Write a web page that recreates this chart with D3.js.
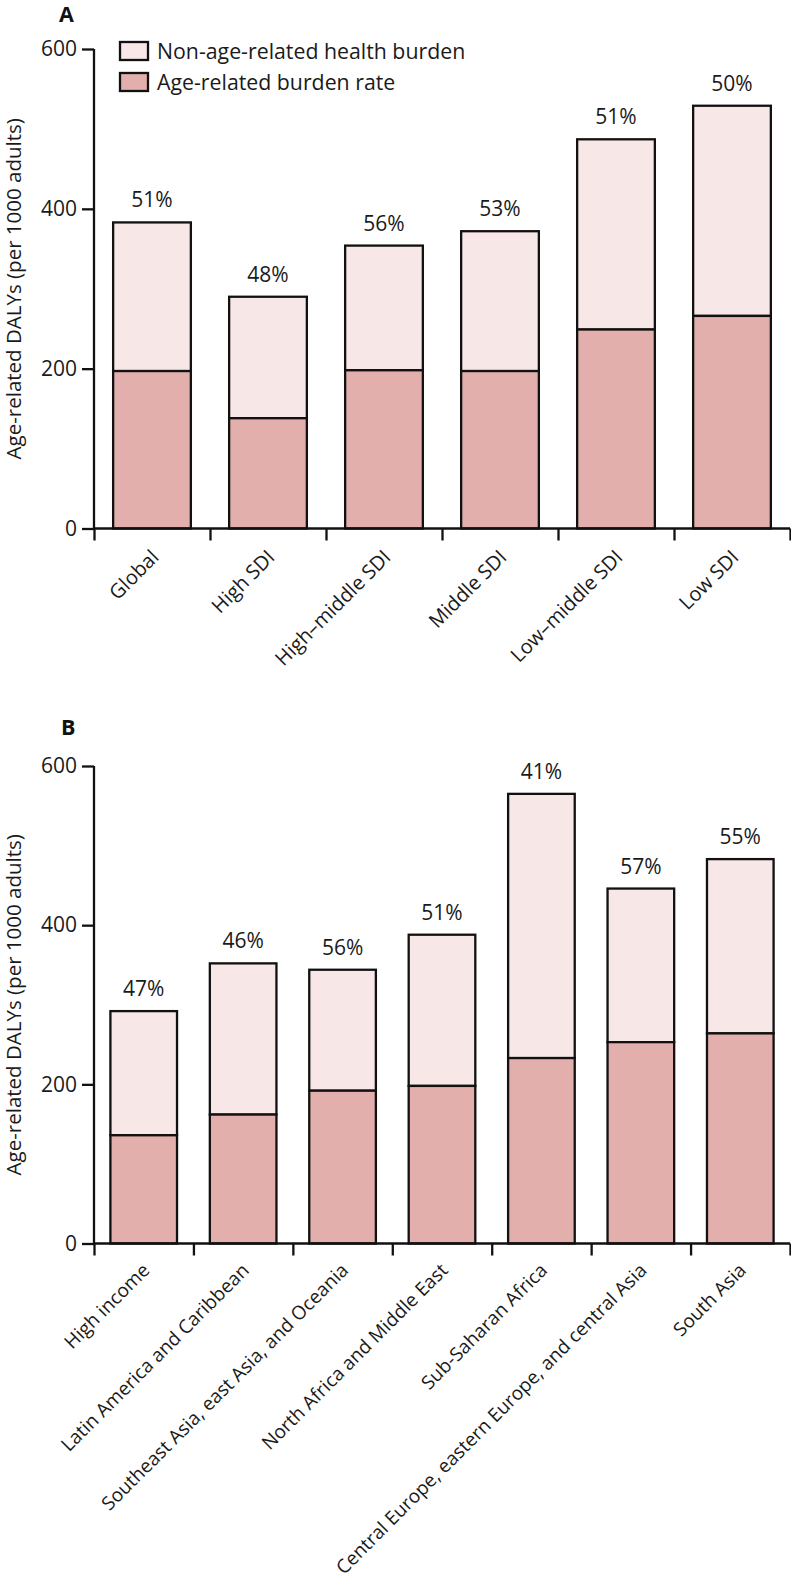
<!DOCTYPE html>
<html>
<head>
<meta charset="utf-8">
<script src="https://cdn.jsdelivr.net/npm/d3@7"></script>
<style>
  html, body { margin: 0; padding: 0; background: #fff; }
  svg { display: block; font-family: "Open Sans", "Noto Sans", sans-serif; }
</style>
</head>
<body>
<script>
// ---- Data ----
const categoriesA = ["Global", "High SDI", "High\u2013middle SDI", "Middle SDI", "Low\u2013middle SDI", "Low SDI"];
const ageRelatedA = [197, 138, 198, 197, 249, 266];
const totalA      = [383, 290, 354, 372, 487, 529];
const percentA    = ["51%", "48%", "56%", "53%", "51%", "50%"];

const categoriesB = ["High income", "Latin America and Caribbean", "Southeast Asia, east Asia, and Oceania",
                     "North Africa and Middle East", "Sub-Saharan Africa",
                     "Central Europe, eastern Europe, and central Asia", "South Asia"];
const ageRelatedB = [136, 162, 192, 198, 233, 253, 264];
const totalB      = [292, 352, 344, 388, 565, 446, 483];
const percentB    = ["47%", "46%", "56%", "51%", "41%", "57%", "55%"];

const yTicks = [0, 200, 400, 600];
const seriesNames = ["Non-age-related health burden", "Age-related burden rate"];
const yTitle = "Age-related DALYs (per 1000 adults)";

// ---- Style ----
const W = 791, H = 1592;
const lightFill = "#f7e7e7", darkFill = "#e3afac";
const x0 = 94, x1 = 790;

const svg = d3.select("body").append("svg").attr("width", W).attr("height", H);
svg.append("rect").attr("width", W).attr("height", H).attr("fill", "#fff");

function drawPanel(cfg) {
  const g = svg.append("g");
  const y = d3.scaleLinear().domain([0, 600]).range([cfg.yBottom, cfg.yTop]);
  const n = cfg.categories.length;
  const x = d3.scaleBand().domain(cfg.categories).range([x0, x1])
              .paddingInner(0.33).paddingOuter(0.165);
  const data = cfg.categories.map((c, i) => ({c, age: cfg.age[i], total: cfg.total[i], pct: cfg.pct[i]}));

  g.selectAll("rect.top").data(data).join("rect")
    .attr("x", d => x(d.c)).attr("width", x.bandwidth())
    .attr("y", d => y(d.total)).attr("height", d => y(d.age) - y(d.total))
    .attr("fill", lightFill).attr("stroke", "#111").attr("stroke-width", 2.3);
  g.selectAll("rect.bot").data(data).join("rect")
    .attr("x", d => x(d.c)).attr("width", x.bandwidth())
    .attr("y", d => y(d.age)).attr("height", d => y(0) - y(d.age))
    .attr("fill", darkFill).attr("stroke", "#111").attr("stroke-width", 2.3);

  g.selectAll("text.pct").data(data).join("text")
    .attr("x", d => x(d.c) + x.bandwidth() / 2)
    .attr("y", d => y(d.total) - 15)
    .attr("text-anchor", "middle")
    .attr("font-size", 21).attr("fill", "#1a1a1a")
    .text(d => d.pct);

  const ya = g.append("g").attr("transform", `translate(${x0},0)`)
    .call(d3.axisLeft(y).tickValues(yTicks).tickSize(12).tickPadding(5).tickFormat(d3.format("d")));
  ya.select(".domain").attr("stroke", "#111").attr("stroke-width", 2.3).attr("d", `M0,${y(600)}V${y(0)}`);
  ya.selectAll(".tick line").attr("stroke", "#111").attr("stroke-width", 2.3);
  ya.selectAll(".tick text").attr("font-size", 21).attr("fill", "#1a1a1a")
    .attr("font-family", "Open Sans, Noto Sans, sans-serif");

  const xb = d3.scaleLinear().domain([0, n]).range([x0, x1]);
  const xa = g.append("g").attr("transform", `translate(0,${y(0)})`)
    .call(d3.axisBottom(xb).tickValues(d3.range(n + 1)).tickSize(12).tickFormat(""));
  xa.select(".domain").attr("stroke", "#111").attr("stroke-width", 2.3).attr("d", `M${x0},0H${x1}`);
  xa.selectAll(".tick line").attr("stroke", "#111").attr("stroke-width", 2.3);

  g.selectAll("text.cat").data(data).join("text")
    .attr("transform", d => `translate(${x(d.c) + x.bandwidth() / 2 + cfg.labDx},${y(0) + cfg.labDy}) rotate(-45)`)
    .attr("text-anchor", "end")
    .attr("font-size", cfg.labSize).attr("fill", "#1a1a1a")
    .text(d => d.c);

  g.append("text")
    .attr("transform", `translate(21,${(y(0) + y(600)) / 2}) rotate(-90)`)
    .attr("text-anchor", "middle").attr("font-size", 20.5).attr("fill", "#1a1a1a")
    .text(yTitle);

  g.append("text").attr("x", cfg.letterX).attr("y", cfg.letterY)
    .attr("font-size", 21.5).attr("font-weight", "bold").attr("fill", "#111")
    .text(cfg.letter);
}

drawPanel({
  categories: categoriesA, age: ageRelatedA, total: totalA, pct: percentA,
  yBottom: 528.5, yTop: 49, letter: "A", letterX: 59, letterY: 22,
  labDx: 8, labDy: 30, labSize: 20
});
drawPanel({
  categories: categoriesB, age: ageRelatedB, total: totalB, pct: percentB,
  yBottom: 1243.5, yTop: 766, letter: "B", letterX: 61, letterY: 735,
  labDx: 7, labDy: 28, labSize: 19
});

const legend = svg.append("g");
const legFills = [lightFill, darkFill];
const legY = [42, 73];
legend.selectAll("rect").data(seriesNames).join("rect")
  .attr("x", 120).attr("y", (d, i) => legY[i]).attr("width", 28).attr("height", 18)
  .attr("fill", (d, i) => legFills[i]).attr("stroke", "#111").attr("stroke-width", 2.3);
legend.selectAll("text").data(seriesNames).join("text")
  .attr("x", 157).attr("y", (d, i) => legY[i] + 17)
  .attr("font-size", 21.3).attr("fill", "#1a1a1a")
  .text(d => d);
</script>
</body>
</html>
